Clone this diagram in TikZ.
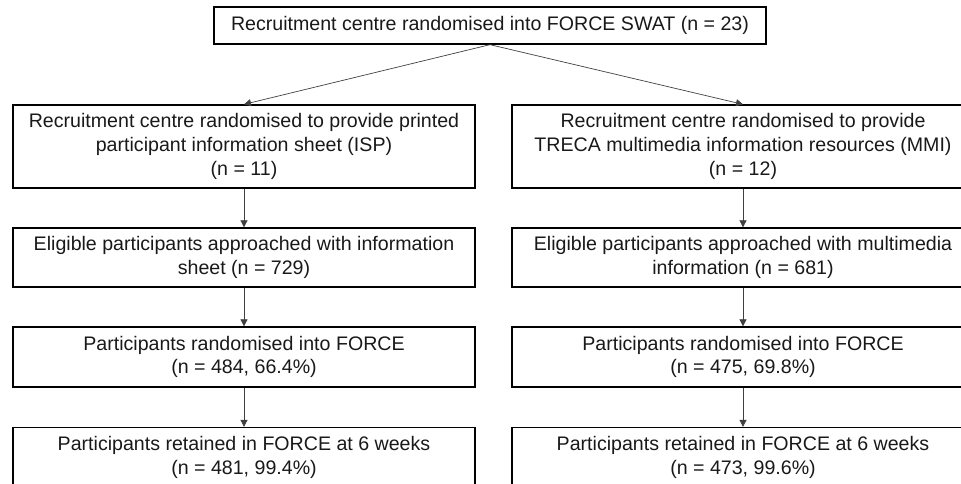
\documentclass[tikz,border=0pt]{standalone}
\usepackage{fontspec}
\setmainfont{Liberation Sans}
\usetikzlibrary{arrows.meta}
\definecolor{Carrowgrey}{HTML}{404040}

\begin{document}
\begin{tikzpicture}[x=1pt,y=-1pt,
		box/.style={draw=black,line width=1.3pt,rectangle,inner sep=0pt,align=center,
			font=\fontsize{19.6}{23.8}\selectfont,text=black!90},
		flow/.style={draw=Carrowgrey,line width=0.7pt,-{Triangle[length=7pt,width=7pt]}}]
		\useasboundingbox (0,0) rectangle (961,483);
		% top
		\node[box,minimum width=552pt,minimum height=37pt] (swat) at (490,25.5) {Recruitment centre randomised into FORCE SWAT (n = 23)};
		% ISP arm
		\node[box,minimum width=462pt,minimum height=83pt] (isp) at (244,146.5) {Recruitment centre randomised to provide printed\\participant information sheet (ISP)\\(n = 11)};
		\node[box,minimum width=462pt,minimum height=59pt] (ispel) at (244,257.5) {Eligible participants approached with information\\sheet (n = 729)};
		\node[box,minimum width=462pt,minimum height=60pt] (isprand) at (244,357) {Participants randomised into FORCE\\(n = 484, 66.4\%)};
		\node[box,minimum width=462pt,minimum height=60pt] (ispret) at (244,457.5) {Participants retained in FORCE at 6 weeks\\(n = 481, 99.4\%)};
		% MMI arm
		\node[box,minimum width=462pt,minimum height=83pt] (mmi) at (743,146.5) {Recruitment centre randomised to provide\\TRECA multimedia information resources (MMI)\\(n = 12)};
		\node[box,minimum width=462pt,minimum height=59pt] (mmiel) at (743,257.5) {Eligible participants approached with multimedia\\information (n = 681)};
		\node[box,minimum width=462pt,minimum height=60pt] (mmirand) at (743,357) {Participants randomised into FORCE\\(n = 475, 69.8\%)};
		\node[box,minimum width=462pt,minimum height=60pt] (mmiret) at (743,457.5) {Participants retained in FORCE at 6 weeks\\(n = 473, 99.6\%)};
		% arrows
		\draw[flow] (swat.south) -- (isp.north);
		\draw[flow] (swat.south) -- (mmi.north);
		\draw[flow] (isp) -- (ispel);
		\draw[flow] (ispel) -- (isprand);
		\draw[flow] (isprand) -- (ispret);
		\draw[flow] (mmi) -- (mmiel);
		\draw[flow] (mmiel) -- (mmirand);
		\draw[flow] (mmirand) -- (mmiret);
	\end{tikzpicture}
\end{document}
